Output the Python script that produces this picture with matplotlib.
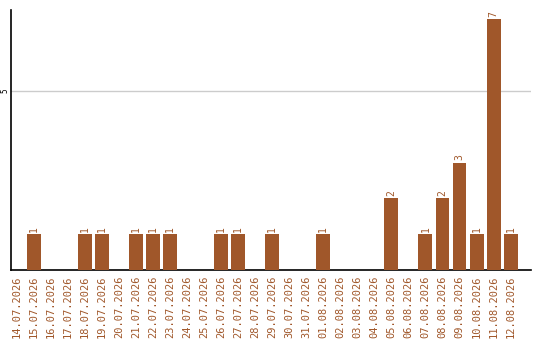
import matplotlib
matplotlib.use("Agg")
import matplotlib.pyplot as plt

dates = ["14.07.2026", "15.07.2026", "16.07.2026", "17.07.2026", "18.07.2026",
         "19.07.2026", "20.07.2026", "21.07.2026", "22.07.2026", "23.07.2026",
         "24.07.2026", "25.07.2026", "26.07.2026", "27.07.2026", "28.07.2026",
         "29.07.2026", "30.07.2026", "31.07.2026", "01.08.2026", "02.08.2026",
         "03.08.2026", "04.08.2026", "05.08.2026", "06.08.2026", "07.08.2026",
         "08.08.2026", "09.08.2026", "10.08.2026", "11.08.2026", "12.08.2026"]
counts = [0, 1, 0, 0, 1, 1, 0, 1, 1, 1, 0, 0, 1, 1, 0, 1, 0, 0, 1, 0,
          0, 0, 2, 0, 1, 2, 3, 1, 7, 1]

brown = "#A0572A"
mono = "DejaVu Sans Mono"

fig = plt.figure(figsize=(5.4, 3.4), dpi=100)
ax = fig.add_axes([11 / 540, 70 / 340, 520 / 540, 260 / 340])

x = list(range(len(dates)))
ax.bar(x, counts, width=0.82, color=brown, zorder=3)

for i, v in zip(x, counts):
    if v > 0:
        ax.text(i, v + 0.06, str(v), rotation=90, ha="center", va="bottom",
                fontsize=7, color=brown, family=mono)

ax.set_xlim(-0.35, 30.2)
ax.set_ylim(0, 7.26)
ax.set_yticks([5])
ax.set_yticklabels(["5"], rotation=90, va="center", fontsize=5.5, family=mono)
ax.tick_params(axis="y", length=0, pad=1)
ax.grid(axis="y", color="#cccccc", linewidth=1, zorder=0)

ax.set_xticks(x)
ax.set_xticklabels(dates, rotation=90, fontsize=7.5, color=brown, family=mono)
ax.tick_params(axis="x", length=0, pad=4)

for side in ["top", "right"]:
    ax.spines[side].set_visible(False)
ax.spines["left"].set_linewidth(1.2)
ax.spines["bottom"].set_linewidth(1.2)

fig.savefig("out.png", dpi=100)
